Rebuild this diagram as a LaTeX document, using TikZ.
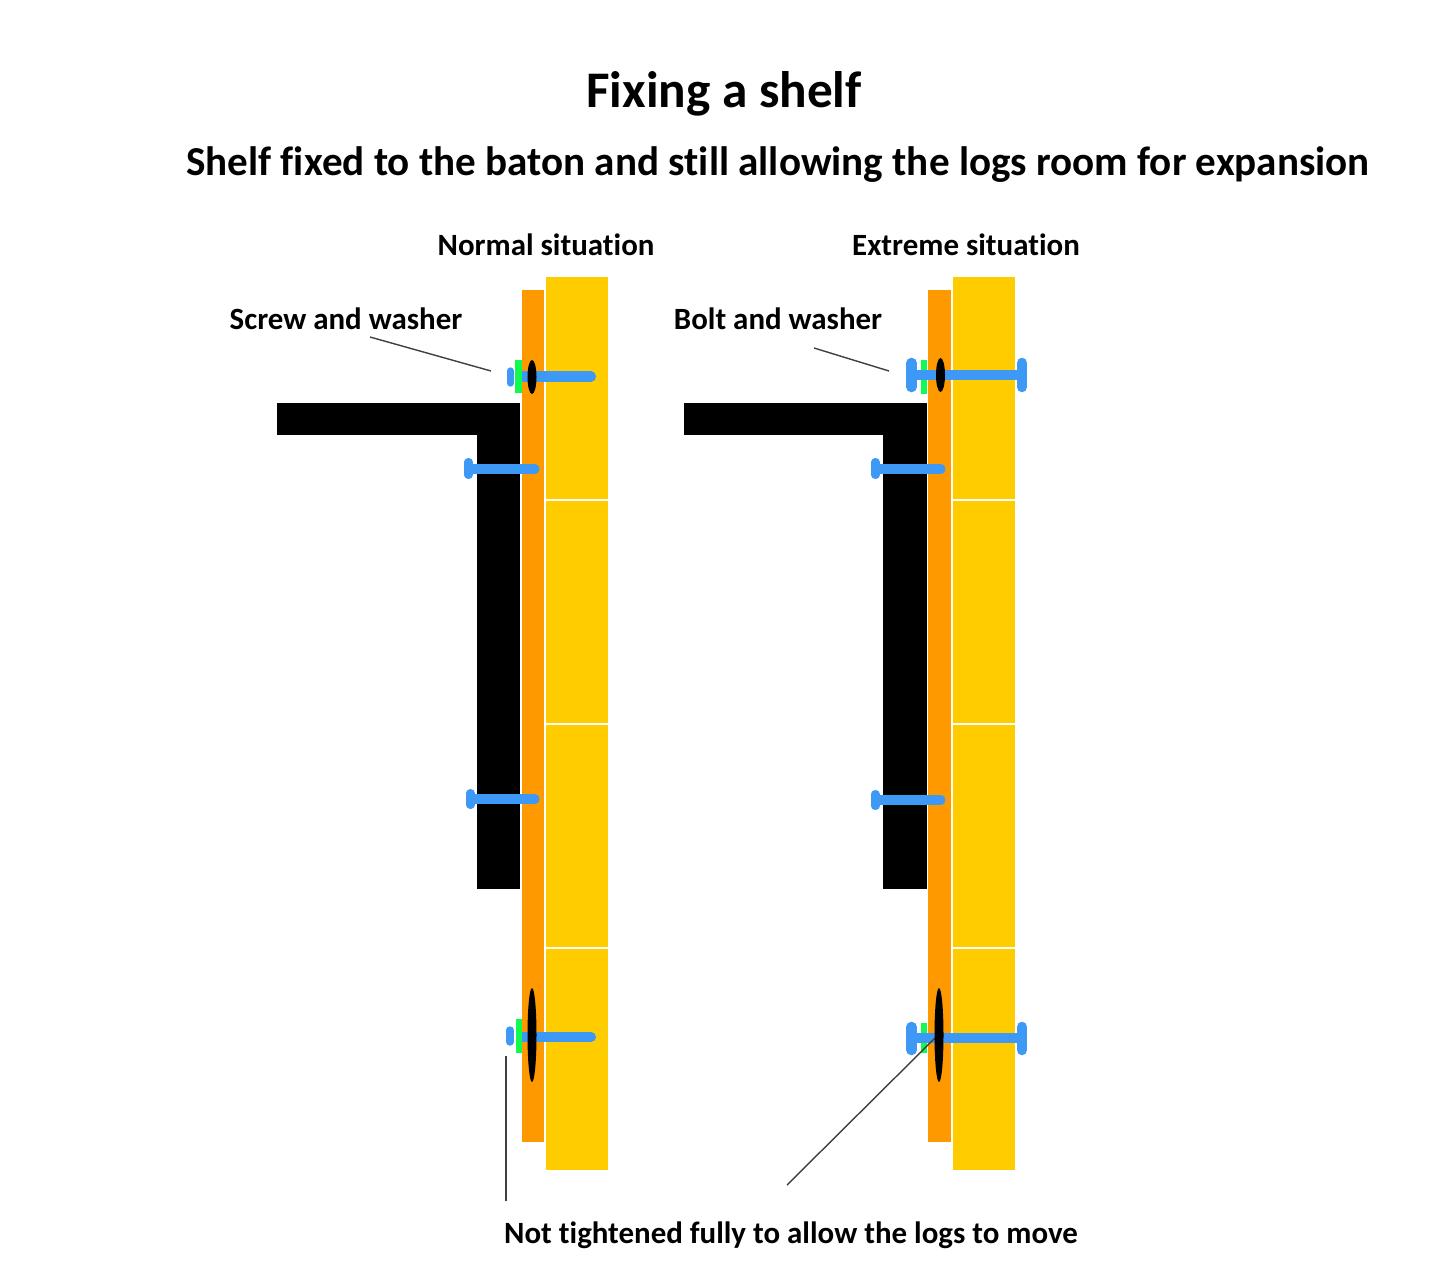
\documentclass[tikz,border=0pt]{standalone}
\usepackage{fontspec}
\setmainfont{Carlito}[Ligatures=NoCommon]
\usetikzlibrary{arrows.meta, positioning, calc}
\definecolor{logyellow}{HTML}{FFCC00}
\definecolor{batonorange}{HTML}{FF9900}
\definecolor{screwblue}{HTML}{3D99F5}
\definecolor{washergreen}{HTML}{10FA50}
\tikzset{
  heading/.style={font=\bfseries\fontsize{29.2}{34}\selectfont},
  subheading/.style={font=\bfseries\fontsize{23.4}{28}\selectfont},
  caption/.style={font=\bfseries\fontsize{17.6}{21}\selectfont},
  shaft/.style={draw=screwblue, line width=5.8pt, line cap=round},
  smallshaft/.style={draw=screwblue, line width=5.2pt, line cap=round},
  smallhead/.style={draw=screwblue, line width=4.6pt, line cap=round},
  bighead/.style={draw=screwblue, line width=6pt, line cap=round},
  flathead/.style={draw=screwblue, line width=4.2pt, line cap=round},
  leader/.style={draw=black!75, line width=0.8pt},
  joint/.style={draw=white, line width=0.8pt},
}
\begin{document}
\begin{tikzpicture}[x=0.02cm, y=-0.02cm]
    \useasboundingbox (0, 0) rectangle (1440, 1284);

    % Titles
    \node[heading] (title) at (724, 94) {Fixing a shelf};
    \node[subheading] (subtitle) at (778, 165) {Shelf fixed to the baton and still allowing the logs room for expansion};
    \node[caption] (normal) at (546, 245) {Normal situation};
    \node[caption] (extreme) at (966, 245) {Extreme situation};
    \node[caption] (screwlabel) at (346, 319) {Screw and washer};
    \node[caption] (boltlabel) at (778, 319) {Bolt and washer};
    \node[caption] (looselabel) at (791, 1235) {Not tightened fully to allow the logs to move};

    % Logs, left
    \fill[logyellow] (546, 277) rectangle (608, 1170);
    \draw[joint] (546, 500) -- (608, 500);
    \draw[joint] (546, 724) -- (608, 724);
    \draw[joint] (546, 948) -- (608, 948);

    % Logs, right
    \fill[logyellow] (953, 277) rectangle (1015, 1170);
    \draw[joint] (953, 500) -- (1015, 500);
    \draw[joint] (953, 724) -- (1015, 724);
    \draw[joint] (953, 948) -- (1015, 948);

    % Batons
    \fill[batonorange] (522, 290) rectangle (544, 1142);
    \fill[batonorange] (928, 290) rectangle (951, 1142);

    % Shelf, left
    \fill[black] (277, 403) rectangle (520, 435);
    \fill[black] (477, 403) rectangle (520, 889);

    % Shelf, right
    \fill[black] (684, 403) rectangle (927, 435);
    \fill[black] (883, 403) rectangle (927, 889);

    % Screws into the baton
    \draw[smallshaft] (472, 469) -- (535, 469);
    \draw[smallhead] (468.5, 462) -- (468.5, 475);
    \draw[smallshaft] (474, 799) -- (535, 799);
    \draw[smallhead] (470.5, 793) -- (470.5, 805);
    \draw[smallshaft] (878, 469) -- (941, 469);
    \draw[smallhead] (875.5, 462) -- (875.5, 475);
    \draw[smallshaft] (879, 800) -- (941, 800);
    \draw[smallhead] (875.5, 794) -- (875.5, 806);

    % Top screw, left
    \draw[shaft] (522, 376.5) -- (591, 376.5);
    \fill[washergreen] (515, 360) rectangle (522, 393);
    \draw[flathead] (510.5, 371) -- (510.5, 383);
    \fill[black] (532, 377) ellipse [x radius=4.5, y radius=17];

    % Bottom screw, left
    \draw[shaft] (522, 1037) -- (591, 1037);
    \fill[washergreen] (516, 1019) rectangle (522, 1053);
    \draw[flathead] (510, 1030) -- (510, 1042);
    \fill[black] (532, 1035) ellipse [x radius=4.5, y radius=47];

    % Top bolt, right
    \fill[washergreen] (921, 360) rectangle (926.5, 394);
    \draw[shaft] (912, 375) -- (1022, 375);
    \draw[bighead] (911.5, 363) -- (911.5, 387);
    \draw[bighead] (1022, 363) -- (1022, 387);
    \fill[black] (940.5, 375) ellipse [x radius=4.5, y radius=17];

    % Bottom bolt, right
    \fill[washergreen] (921, 1023) rectangle (926.5, 1053);
    \draw[shaft] (912, 1038) -- (1022, 1038);
    \draw[bighead] (911.5, 1027) -- (911.5, 1050);
    \draw[bighead] (1022, 1027) -- (1022, 1050);

    % Leader lines
    \coordinate (screwtip) at (491, 371);
    \coordinate (bolttip) at (889, 371);
    \coordinate (looseleft) at (506, 1056);
    \coordinate (looseleftend) at (506, 1201);
    \coordinate (looseright) at (936, 1037);
    \coordinate (looserightend) at (787, 1185);
    \draw[leader] (370, 337) -- (screwtip);
    \draw[leader] (814, 348) -- (bolttip);
    \draw[leader] (looseleft) -- (looseleftend);
    \draw[leader] (looserightend) -- (looseright);
    \fill[black] (939, 1035) ellipse [x radius=4.5, y radius=47];
\end{tikzpicture}
\end{document}
